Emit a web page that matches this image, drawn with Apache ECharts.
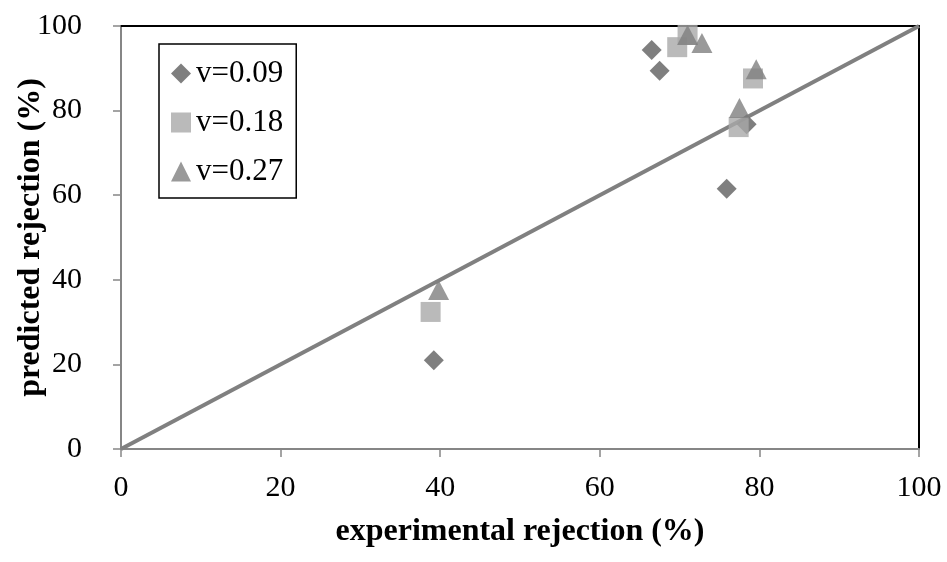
<!DOCTYPE html>
<html>
<head>
<meta charset="utf-8">
<title>predicted vs experimental rejection</title>
<script src="https://cdn.jsdelivr.net/npm/echarts@6/dist/echarts.min.js"></script>
<style>
  html, body { margin: 0; padding: 0; background: #ffffff; }
  #chart { width: 947px; height: 562px; }
</style>
</head>
<body>
<div id="chart"></div>
<script>
// Experimental vs predicted rejection (%), one series per v value
const seriesNames = ['v=0.09', 'v=0.18', 'v=0.27'];

const experimental009 = [39.2, 66.5, 67.5, 75.9, 78.4];
const predicted009    = [21.0, 94.3, 89.4, 61.5, 76.8];

const experimental018 = [38.8, 69.7, 71.0, 77.4, 79.2];
const predicted018    = [32.4, 95.0, 97.9, 76.1, 87.6];

const experimental027 = [39.8, 71.0, 72.8, 77.5, 79.6];
const predicted027    = [37.6, 97.9, 96.0, 80.6, 89.8];

// 1:1 reference line
const parityLine = [[0, 0], [100, 100]];

const axisTicks = [0, 20, 40, 60, 80, 100];

const FONT = '"Times New Roman", "Liberation Serif", serif';

function pairs(xs, ys) {
  return xs.map((x, i) => [x, ys[i]]);
}

const chart = echarts.init(document.getElementById('chart'), null, { renderer: 'canvas' });

const axisGray = '#868686';

chart.setOption({
  animation: false,
  backgroundColor: '#ffffff',
  grid: { left: 121, right: 28, top: 26, bottom: 113, show: false, containLabel: false, outerBoundsMode: 'none' },
  legend: {
    data: seriesNames,
    orient: 'vertical',
    left: 159,
    top: 44,
    padding: [14, 13, 11, 12],
    itemGap: 18,
    itemWidth: 20,
    itemHeight: 20,
    itemTextGap: 5,
    borderColor: '#000000',
    borderWidth: 1.5,
    backgroundColor: '#ffffff',
    textStyle: { fontFamily: FONT, fontSize: 31, lineHeight: 31, color: '#000000' }
  },
  xAxis: [
    {
      type: 'value', min: axisTicks[0], max: axisTicks[axisTicks.length - 1], interval: 20,
      name: 'experimental rejection (%)',
      nameLocation: 'middle', nameGap: 67,
      nameTextStyle: { fontFamily: FONT, fontSize: 32, fontWeight: 'bold', color: '#000000' },
      axisLine: { show: true, onZero: false, lineStyle: { color: axisGray, width: 2 } },
      axisTick: { show: true, inside: false, length: 8, lineStyle: { color: axisGray, width: 1.5 } },
      axisLabel: { fontFamily: FONT, fontSize: 30, color: '#000000', margin: 24 },
      splitLine: { show: false }
    },
    {
      // top frame edge
      type: 'value', position: 'top', min: 0, max: 100,
      axisLine: { show: true, onZero: false, lineStyle: { color: '#000000', width: 2 } },
      axisTick: { show: false }, axisLabel: { show: false }, splitLine: { show: false }
    }
  ],
  yAxis: [
    {
      type: 'value', min: axisTicks[0], max: axisTicks[axisTicks.length - 1], interval: 20,
      name: 'predicted rejection (%)',
      nameLocation: 'middle', nameGap: 74, nameMoveOverlap: false,
      nameTextStyle: { fontFamily: FONT, fontSize: 32, fontWeight: 'bold', color: '#000000' },
      axisLine: { show: true, onZero: false, lineStyle: { color: axisGray, width: 2 } },
      axisTick: { show: true, inside: false, length: 8, lineStyle: { color: axisGray, width: 1.5 } },
      axisLabel: { fontFamily: FONT, fontSize: 30, color: '#000000', margin: 39 },
      splitLine: { show: false }
    },
    {
      // right frame edge
      type: 'value', position: 'right', min: 0, max: 100,
      axisLine: { show: true, onZero: false, lineStyle: { color: '#000000', width: 2 } },
      axisTick: { show: false }, axisLabel: { show: false }, splitLine: { show: false }
    }
  ],
  series: [
    {
      name: 'parity',
      type: 'line',
      data: parityLine,
      symbol: 'none',
      silent: true,
      z: 1,
      lineStyle: { color: '#808080', width: 4 }
    },
    {
      name: seriesNames[0],
      type: 'scatter',
      symbol: 'diamond',
      symbolSize: 20,
      z: 2,
      itemStyle: { color: '#5f5f5f' },
      data: pairs(experimental009, predicted009)
    },
    {
      name: seriesNames[1],
      type: 'scatter',
      symbol: 'rect',
      symbolSize: 20,
      z: 3,
      itemStyle: { color: '#a9a9a9' },
      data: pairs(experimental018, predicted018)
    },
    {
      name: seriesNames[2],
      type: 'scatter',
      symbol: 'triangle',
      symbolSize: [21, 20],
      z: 4,
      itemStyle: { color: '#7f7f7f' },
      data: pairs(experimental027, predicted027)
    }
  ]
});
</script>
</body>
</html>
